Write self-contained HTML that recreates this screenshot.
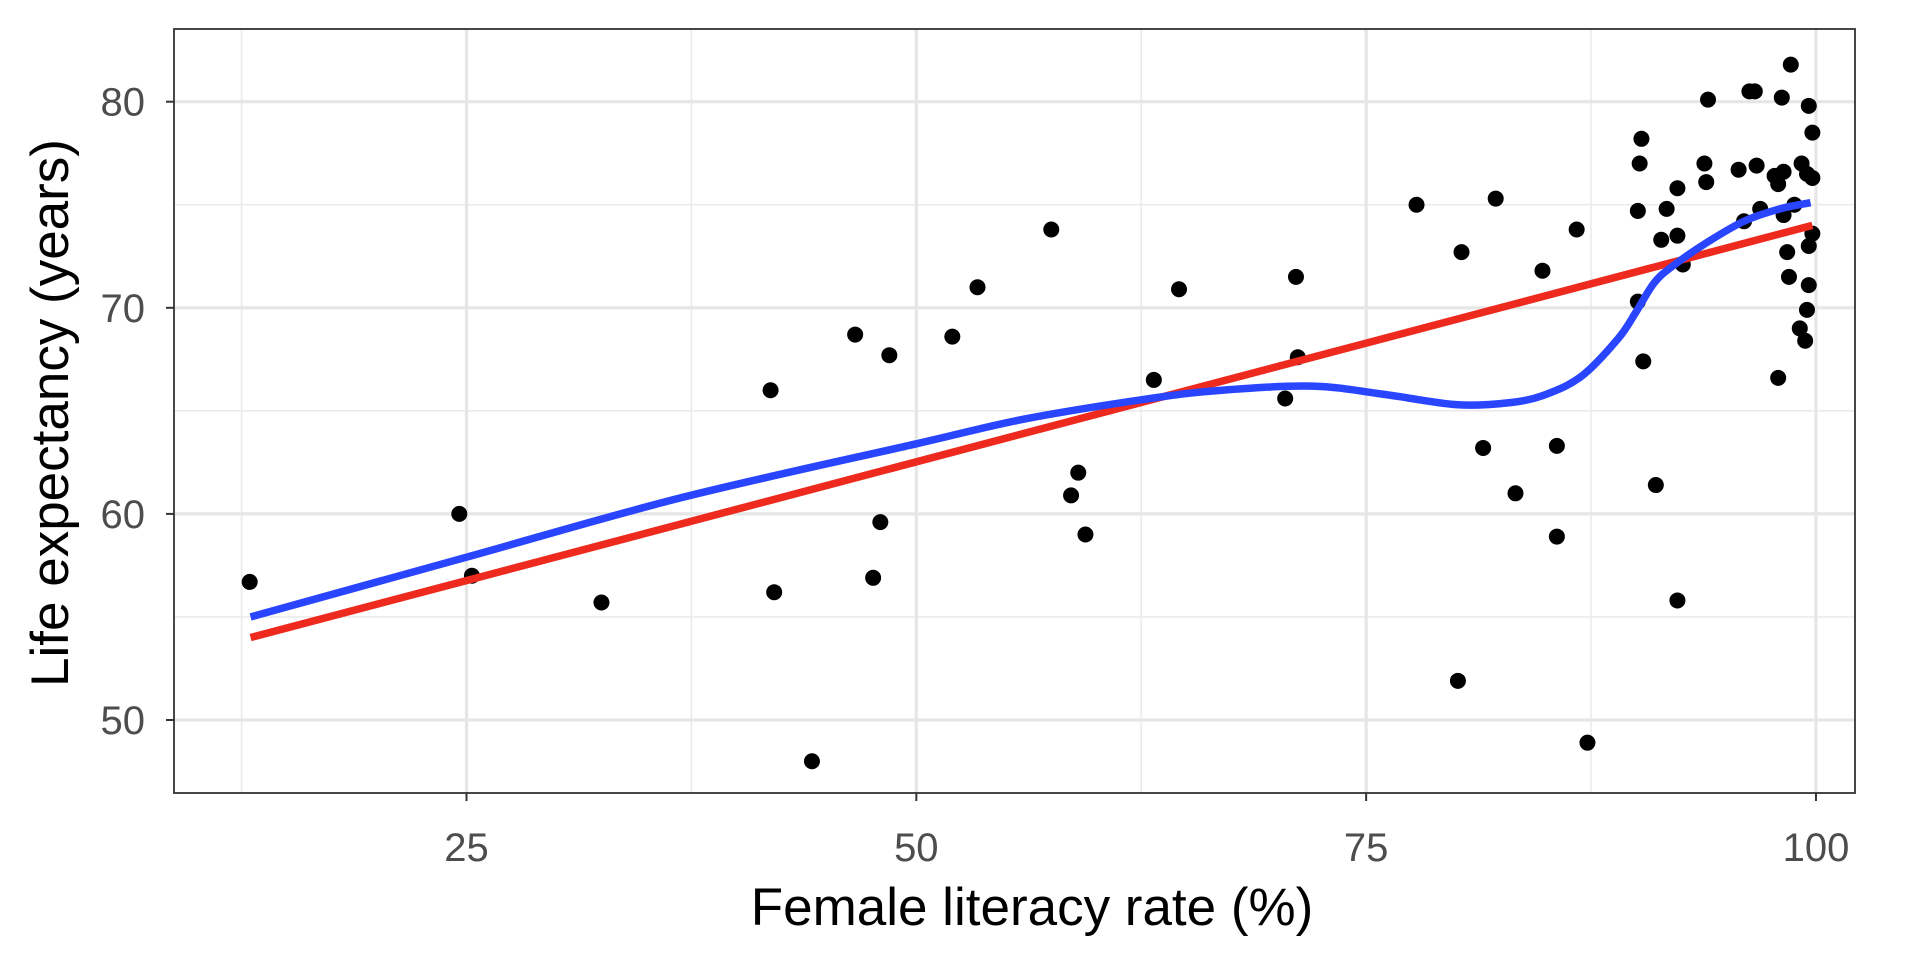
<!DOCTYPE html>
<html><head><meta charset="utf-8"><style>
body{margin:0;background:#fff}
svg text{font-family:"Liberation Sans",sans-serif}
</style></head><body>
<svg id="chart" width="1920" height="960" xmlns="http://www.w3.org/2000/svg">
<g id="grid"></g>
<g id="marks"></g>
<rect x="174" y="29" width="1681" height="764" fill="none" stroke="#333" stroke-width="1.8"/>
<g id="axes"></g>
<text x="1032" y="925" font-size="53" text-anchor="middle" fill="#000">Female literacy rate (%)</text>
<text transform="translate(68,413) rotate(-90)" font-size="53" text-anchor="middle" fill="#000">Life expectancy (years)</text>
</svg>
<script>
const pointsX=[12.95,24.6,25.3,32.5,41.9,42.1,44.2,46.6,47.6,48.0,48.5,52.0,53.4,57.5,58.6,59.0,59.4,63.2,64.6,70.5,71.1,71.2,77.8,80.3,80.1,81.5,82.2,83.3,84.8,85.6,85.6,86.7,87.3,90.1,90.2,90.3,90.1,90.4,91.1,91.4,91.7,92.3,92.3,92.3,92.6,93.8,94.0,93.9,95.7,96.0,96.3,96.6,96.7,96.9,97.7,97.9,97.9,98.1,98.2,98.2,98.4,98.5,98.6,98.8,99.1,99.2,99.4,99.5,99.5,99.6,99.6,99.6,99.8,99.8,99.8];
const pointsY=[56.7,60.0,57.0,55.7,66.0,56.2,48.0,68.7,56.9,59.6,67.7,68.6,71.0,73.8,60.9,62.0,59.0,66.5,70.9,65.6,71.5,67.6,75.0,72.7,51.9,63.2,75.3,61.0,71.8,63.3,58.9,73.8,48.9,74.7,77.0,78.2,70.3,67.4,61.4,73.3,74.8,55.8,75.8,73.5,72.1,77.0,80.1,76.1,76.7,74.2,80.5,80.5,76.9,74.8,76.4,76.0,66.6,80.2,74.5,76.6,72.7,71.5,81.8,75.0,69.0,77.0,68.4,76.5,69.9,79.8,73.0,71.1,78.5,76.3,73.6];
const linX=[13,99.8];
const linY=[54.0,74.0];
const loessX=[13,25,37,50,56,63,67,72,76,80,83,85,87,89,90,91,92,94,96,98,99.7];
const loessY=[55.0,57.9,60.8,63.4,64.6,65.6,66.0,66.2,65.8,65.3,65.4,65.8,66.7,68.5,69.8,71.2,72.0,73.2,74.2,74.8,75.1];
const xTicks=[25,50,75,100];
const yTicks=[50,60,70,80];
const xMinor=[12.5,37.5,62.5,87.5];
const yMinor=[55,65,75];
const X=v=>466.5+(v-25)*17.993;
const Y=v=>720-(v-50)*20.61;
const NS="http://www.w3.org/2000/svg";
function mk(tag,attrs,parent){const e=document.createElementNS(NS,tag);for(const k in attrs)e.setAttribute(k,attrs[k]);parent.appendChild(e);return e;}
const grid=document.getElementById('grid'),marks=document.getElementById('marks'),axes=document.getElementById('axes');
mk('rect',{x:174,y:29,width:1681,height:764,fill:'#fff'},grid);
xMinor.forEach(v=>{const l=mk('line',{x1:X(v),x2:X(v),y1:29,y2:793,stroke:'#ebebeb','stroke-width':1.6},grid);

});
yMinor.forEach(v=>{const l=mk('line',{x1:174,x2:1855,y1:Y(v),y2:Y(v),stroke:'#ebebeb','stroke-width':1.6},grid);

});
xTicks.forEach(v=>{const l=mk('line',{x1:X(v),x2:X(v),y1:29,y2:793,stroke:'#e6e6e6','stroke-width':3.2},grid);


const t=mk('line',{x1:X(v),x2:X(v),y1:793,y2:801,stroke:'#333','stroke-width':2},axes);


const tx=mk('text',{x:X(v),y:861,'font-size':40,'text-anchor':'middle',fill:'#4d4d4d'},axes);tx.textContent=v;

});
yTicks.forEach(v=>{const l=mk('line',{x1:174,x2:1855,y1:Y(v),y2:Y(v),stroke:'#e6e6e6','stroke-width':3.2},grid);


const t=mk('line',{x1:166,x2:174,y1:Y(v),y2:Y(v),stroke:'#333','stroke-width':2},axes);


const tx=mk('text',{x:145,y:Y(v)+14,'font-size':40,'text-anchor':'end',fill:'#4d4d4d'},axes);tx.textContent=v;

});
pointsX.forEach((v,i)=>{const c=mk('circle',{cx:X(v),cy:Y(pointsY[i]),r:8,fill:'#000'},marks);

});
const lin=mk('polyline',{points:linX.map((v,i)=>X(v)+','+Y(linY[i])).join(' '),fill:'none',stroke:'#ee2a1f','stroke-width':7.5},marks);


let d='';
const px=loessX.map(X),py=loessY.map(Y);
d='M'+px[0]+','+py[0];
for(let i=0;i<px.length-1;i++){const p0=[px[Math.max(i-1,0)],py[Math.max(i-1,0)]],p1=[px[i],py[i]],p2=[px[i+1],py[i+1]],p3=[px[Math.min(i+2,px.length-1)],py[Math.min(i+2,px.length-1)]];
d+=` C${p1[0]+(p2[0]-p0[0])/6},${p1[1]+(p2[1]-p0[1])/6} ${p2[0]-(p3[0]-p1[0])/6},${p2[1]-(p3[1]-p1[1])/6} ${p2[0]},${p2[1]}`;}
const lo=mk('path',{d:d,fill:'none',stroke:'#2a45ff','stroke-width':7.5},marks);


</script>
</body></html>
